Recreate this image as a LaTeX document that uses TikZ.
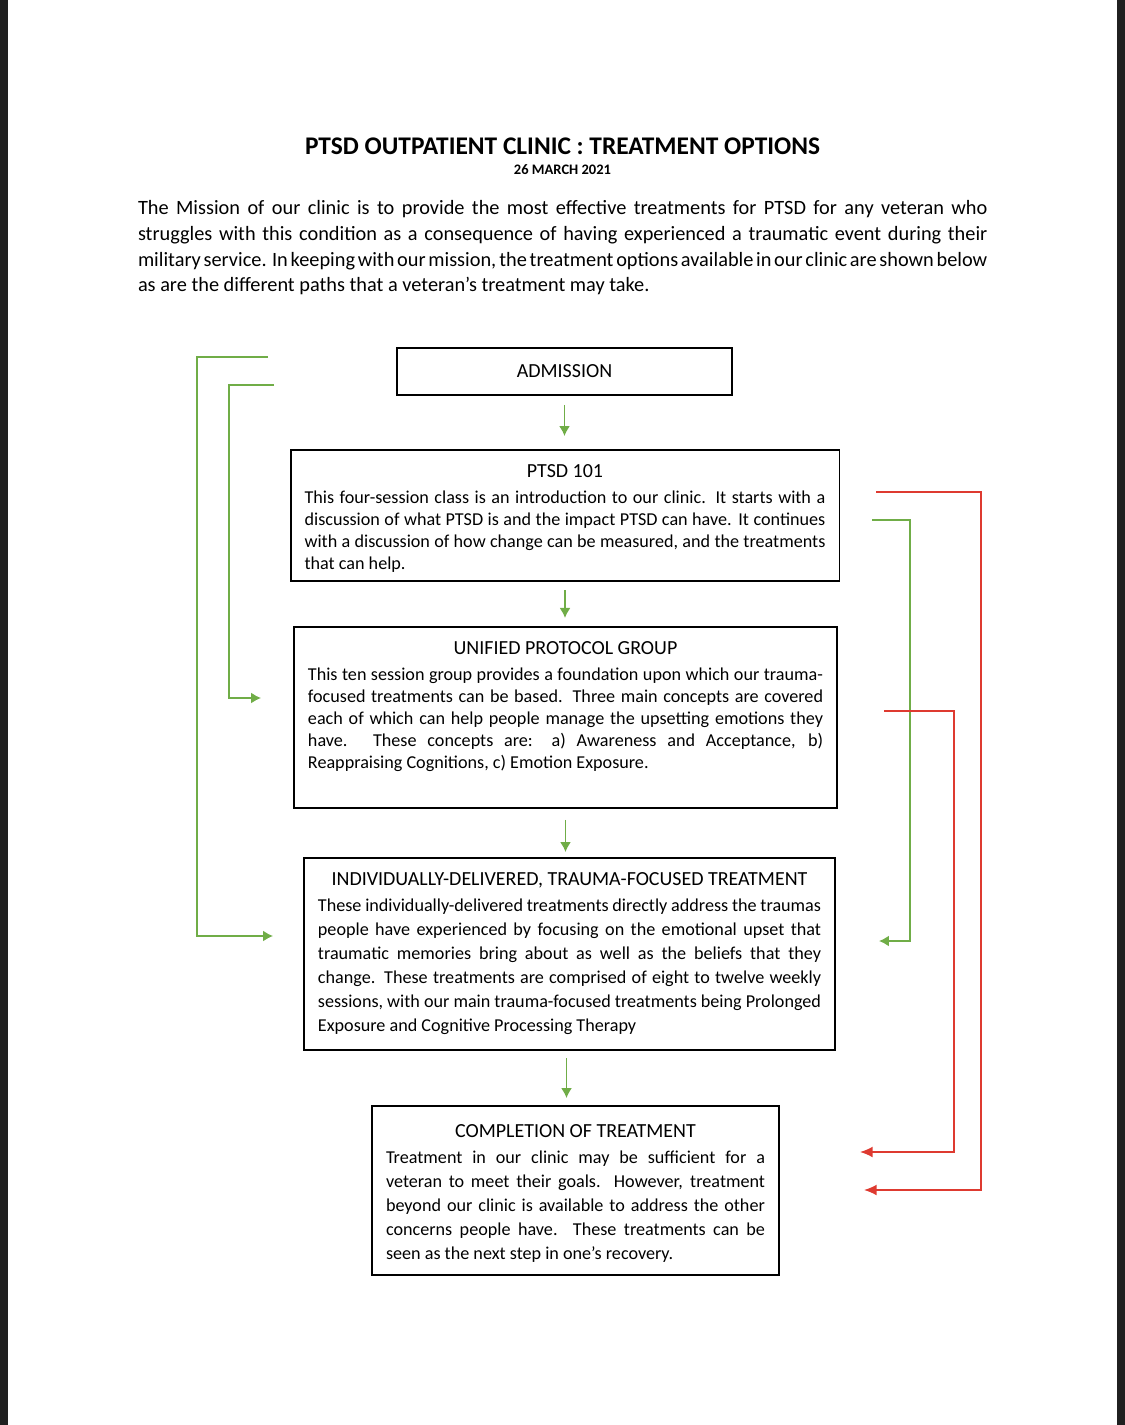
\documentclass[tikz,border=0pt]{standalone}
\usepackage{fontspec}
\setmainfont{Carlito}
\usetikzlibrary{arrows.meta,positioning}
\tikzset{
  box/.style={draw=black, line width=1pt, inner xsep=7.7pt, inner ysep=0pt},
  flow/.style={draw=G, line width=0.8pt, -{Latex[length=5.5pt,width=6pt]}},
  back/.style={draw=R, line width=0.8pt, -{Latex[length=7pt,width=6pt]}},
}
\newcommand{\fullline}[1]{\hbox to\linewidth{#1}}
\newcommand{\boxtext}[6][8pt]{\parbox[c][#2][t]{#3}{\fontsize{10}{#4}\selectfont
  \vspace*{#1}{\centering\fontsize{11}{13}\selectfont #5\par}\vspace{\dimexpr14.3pt-#4\relax}
  #6\par}}
\begin{document}
\begin{tikzpicture}[x=0.551pt, y=-0.551pt, inner sep=0pt, outer sep=0pt]
\definecolor{G}{RGB}{112,173,71}
\definecolor{R}{RGB}{222,58,48}
\definecolor{K}{RGB}{32,32,32}
\useasboundingbox (0,0) rectangle (1125,1425);
\fill[K] (0,0) rectangle (8,1425);
\fill[K] (1117,0) rectangle (1125,1425);
\node[font=\fontsize{14}{17}\selectfont\bfseries] (title) at (562.5,146) {PTSD OUTPATIENT CLINIC : TREATMENT OPTIONS};
\node[font=\fontsize{8}{10}\selectfont\bfseries] (date) at (562.5,170) {26 MARCH 2021};
\node[anchor=north west, text width=468pt, align=left, font=\fontsize{11.2}{14.3}\selectfont] (mission) at (138,200)
  {\spaceskip=0.226em plus 0.5em minus 0.1em\relax
  \fullline{The Mission of our clinic is to provide the most effective treatments for PTSD for any veteran who}
  \fullline{struggles with this condition as a consequence of having experienced a traumatic event during their}
  \fullline{military service.\ \ In keeping with our mission, the treatment options available in our clinic are shown below}
  as are the different paths that a veteran’s treatment may take.};
\node[box, minimum width=184.6pt, minimum height=25.9pt, font=\fontsize{11}{13}\selectfont] (adm) at (564.5,371.5) {ADMISSION};
\node[box] (p101) at (565,515.5) {\boxtext{72.2pt}{287pt}{12.1pt}{PTSD 101}{%
  This four-session class is an introduction to our clinic.  It starts with a\linebreak
  discussion of what PTSD is and the impact PTSD can have.  It continues\linebreak
  with a discussion of how change can be measured, and the treatments\linebreak
  that can help.}};
\node[box] (upg) at (565.5,717.5) {\boxtext{99.7pt}{283.8pt}{12.1pt}{UNIFIED PROTOCOL GROUP}{%
  This ten session group provides a foundation upon which our trauma-\linebreak
  focused treatments can be based.  Three main concepts are covered\linebreak
  each of which can help people manage the upsetting emotions they\linebreak
  have.  These concepts are: a) Awareness and Acceptance, b)\linebreak
  Reappraising Cognitions, c) Emotion Exposure.}};
\node[box] (idt) at (569.5,954) {\boxtext{105.8pt}{277.2pt}{13.2pt}{INDIVIDUALLY-DELIVERED, TRAUMA-FOCUSED TREATMENT}{%
  These individually-delivered treatments directly address the traumas\linebreak
  people have experienced by focusing on the emotional upset that\linebreak
  traumatic memories bring about as well as the beliefs that they\linebreak
  change.  These treatments are comprised of eight to twelve weekly\linebreak
  sessions, with our main trauma-focused treatments being Prolonged\linebreak
  Exposure and Cognitive Processing Therapy}};
\node[box] (comp) at (575.5,1190.5) {\boxtext[10.3pt]{93.1pt}{208.8pt}{13.2pt}{COMPLETION OF TREATMENT}{%
  Treatment in our clinic may be sufficient for a\linebreak
  veteran to meet their goals.  However, treatment\linebreak
  beyond our clinic is available to address the other\linebreak
  concerns people have.  These treatments can be\linebreak
  seen as the next step in one’s recovery.}};
\draw[flow, shorten <=5.5pt, shorten >=7.7pt] (adm.south) -- (adm.south |- p101.north);
\draw[flow, shorten <=5pt, shorten >=5pt] (p101.south) -- (p101.south |- upg.north);
\draw[flow, shorten <=6.6pt, shorten >=3.3pt] (upg.south) -- (upg.south |- idt.north);
\draw[flow, shorten <=4.4pt, shorten >=4.4pt] (idt.south -| comp.south) ++(-9,0) coordinate (c4) -- (c4 |- comp.north);
\coordinate (ltop) at (268,357);
\coordinate (ltopend) at (273,936);
\coordinate (lmid) at (274,385);
\coordinate (lmidend) at (261,698);
\coordinate (rgrn) at (872,520);
\coordinate (rgrnend) at (879,941);
\coordinate (rout) at (876,492);
\coordinate (routend) at (864,1190);
\coordinate (rin) at (884,711);
\coordinate (rinend) at (860,1152);
\draw[flow] (ltop) -- (197,357) |- (ltopend);
\draw[flow] (lmid) -- (229,385) |- (lmidend);
\draw[flow] (rgrn) -- (910,520) |- (rgrnend);
\draw[back] (rout) -- (981,492) |- (routend);
\draw[back] (rin) -- (954,711) |- (rinend);
\end{tikzpicture}
\end{document}
